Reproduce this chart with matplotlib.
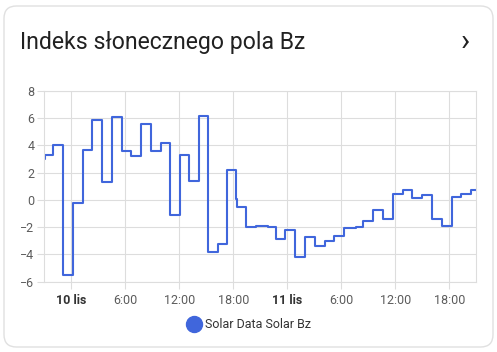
import pandas as pd
import matplotlib
matplotlib.use("Agg")
import matplotlib.pyplot as plt
import matplotlib.dates as mdates
from matplotlib.patches import FancyBboxPatch
from matplotlib.lines import Line2D

plt.rcParams['font.family'] = ['Roboto', 'DejaVu Sans']

# hours relative to 10 Nov 00:00 and the step values (Bz)
hours = [-3.04, -2.95, -2.0, -0.93, 0.18, 1.26, 2.33, 3.4, 4.5, 5.59, 6.66, 7.74,
         8.81, 9.92, 11.0, 12.07, 13.1, 14.18, 15.18, 16.26, 17.33, 18.26, 18.4,
         19.44, 20.5, 21.8, 22.7, 23.78, 24.89, 25.96, 27.07, 28.14, 29.22, 30.33,
         31.6, 32.44, 33.55, 34.62, 35.73, 36.85, 37.89, 39.0, 40.07, 41.18, 42.26,
         43.33, 44.44, 44.96]
bz = [3.0, 3.3, 4.0, -5.5, -0.2, 3.7, 5.9, 1.3, 6.1, 3.6, 3.2, 5.6,
      3.6, 4.2, -1.1, 3.3, 1.4, 6.2, -3.8, -3.2, 2.2, 0.05, -0.55,
      -1.95, -1.9, -1.95, -2.85, -2.2, -4.15, -2.75, -3.35, -3.0, -2.65, -2.05,
      -1.95, -1.57, -0.74, -1.37, 0.44, 0.76, 0.15, 0.34, -1.37, -1.89, 0.24,
      0.44, 0.76, 0.76]

start = pd.Timestamp("2024-11-10 00:00")
times = [start + pd.Timedelta(hours=h) for h in hours]
x_min = start + pd.Timedelta(hours=-3)
x_max = start + pd.Timedelta(hours=45)

title = "Indeks słonecznego pola Bz"
series_name = "Solar Data Solar Bz"
line_color = "#4066dc"
grid_color = "#dddddd"
text_color = "#5c5c5c"

fig = plt.figure(figsize=(4.97, 3.52), dpi=100)
fig.patch.set_facecolor("white")

# card background, kept behind the axes
card = FancyBboxPatch((4 / 497, 5 / 352), 489 / 497, 341 / 352,
                      boxstyle="round,pad=0,rounding_size=0.025",
                      transform=fig.transFigure, facecolor="white",
                      edgecolor="#e0e0e0", linewidth=1.0,
                      mutation_aspect=497 / 352, zorder=-10)
fig.patches.append(card)

fig.text(20 / 497, 1 - 42 / 352, title, fontsize=16.6, color="#212121",
         va="center", ha="left")
fig.text(465 / 497, 1 - 42 / 352, "›", fontsize=22, color="#212121",
         va="center", ha="center")

ax = fig.add_axes([44.3 / 497, 1 - 281.7 / 352, 432 / 497, 190.7 / 352])
ax.set_facecolor("none")
ax.plot(times, bz, drawstyle="steps-post", color=line_color, lw=1.5)

ax.set_xlim(x_min, x_max)
ax.set_ylim(-6, 8)
ax.set_yticks(range(-6, 9, 2))

ax.xaxis.set_major_locator(mdates.HourLocator(byhour=[0, 6, 12, 18]))


def fmt(x, pos=None):
    d = mdates.num2date(x)
    if d.hour == 0:
        return f"{d.day} lis"
    return f"{d.hour}:00"


ax.xaxis.set_major_formatter(plt.FuncFormatter(fmt))

ax.grid(True, color=grid_color, lw=0.8)
ax.set_axisbelow(True)
for s in ax.spines.values():
    s.set_color(grid_color)
    s.set_linewidth(0.8)
ax.tick_params(colors=grid_color, labelcolor=text_color, labelsize=9,
               length=5, width=0.8)
ax.tick_params(axis="x", pad=4)
ax.tick_params(axis="y", pad=2)

fig.canvas.draw()
for lab in ax.get_xticklabels():
    if "lis" in lab.get_text():
        lab.set_fontweight("bold")
        lab.set_color("#333333")

handle = Line2D([], [], marker="o", linestyle="", color=line_color, markersize=11.5)
fig.legend([handle], [series_name], loc="center", bbox_to_anchor=(0.5, 1 - 325 / 352),
           frameon=False, fontsize=9, handletextpad=0.3, labelcolor="#333333",
           handlelength=1.2)

fig.savefig("out.png", dpi=100)
